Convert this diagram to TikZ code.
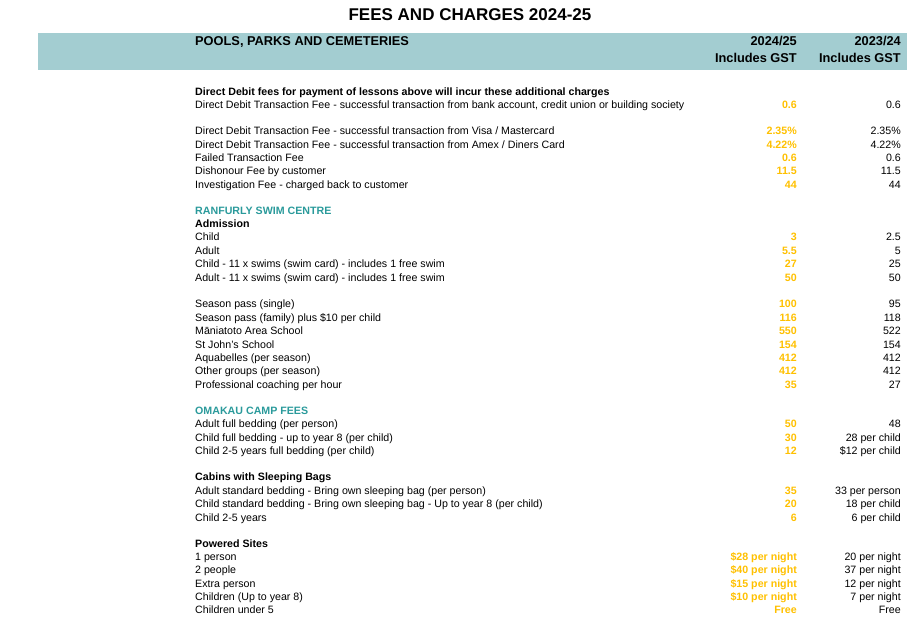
\documentclass[tikz,border=0pt]{standalone}
\usepackage{fontspec}
\setmainfont{Liberation Sans}
\definecolor{band}{HTML}{A3CDD1}
\definecolor{teal}{HTML}{2A9A9B}
\definecolor{gold}{HTML}{FFC000}
\newcommand\rowz[5]{%
  \node[lbl] (#1l) at (195,#2) {#3};
  \node[va] (#1a) at (797,#2) {#4};
  \node[vb] (#1b) at (901,#2) {#5};}
\begin{document}
\begin{tikzpicture}[x=1pt,y=-1pt,
  every node/.style={inner sep=0pt,font=\fontsize{10.65}{12}\selectfont},
  lbl/.style={anchor=base west},
  va/.style={anchor=base east,text=gold,font=\fontsize{10.65}{12}\selectfont\bfseries},
  vb/.style={anchor=base east},
  hd/.style={anchor=base west,font=\fontsize{10.65}{12}\selectfont\bfseries},
  th/.style={anchor=base east,font=\fontsize{12.8}{14}\selectfont\bfseries}]
\useasboundingbox (0,0) rectangle (907,626);
\fill[band] (38,33) rectangle (907,70);
\node[font=\fontsize{17}{20}\selectfont\bfseries,anchor=base] (title) at (470,21) {FEES AND CHARGES 2024-25};
\node[hd,font=\fontsize{12.8}{14}\selectfont\bfseries] (h0) at (195,46) {POOLS, PARKS AND CEMETERIES};
\node[th] (h1) at (797,46) {2024/25};
\node[th] (h2) at (797,63) {Includes GST};
\node[th] (h3) at (901,46) {2023/24};
\node[th] (h4) at (901,63) {Includes GST};
\node[hd] (s1) at (195,95) {Direct Debit fees for payment of lessons above will incur these additional charges};
\rowz{r1}{108}{Direct Debit Transaction Fee - successful transaction from bank account, credit union or building society}{0.6}{0.6}
\rowz{r2}{134}{Direct Debit Transaction Fee - successful transaction from Visa / Mastercard}{2.35\%}{2.35\%}
\rowz{r3}{148}{Direct Debit Transaction Fee - successful transaction from Amex / Diners Card}{4.22\%}{4.22\%}
\rowz{r4}{161}{Failed Transaction Fee}{0.6}{0.6}
\rowz{r5}{174}{Dishonour Fee by customer}{11.5}{11.5}
\rowz{r6}{188}{Investigation Fee - charged back to customer}{44}{44}
\node[hd,text=teal] (s2) at (195,214) {RANFURLY SWIM CENTRE};
\node[hd] (s3) at (195,227) {Admission};
\rowz{r7}{240}{Child}{3}{2.5}
\rowz{r8}{254}{Adult}{5.5}{5}
\rowz{r9}{267}{Child - 11 x swims (swim card) - includes 1 free swim}{27}{25}
\rowz{r10}{281}{Adult - 11 x swims (swim card) - includes 1 free swim}{50}{50}
\rowz{r11}{307}{Season pass (single)}{100}{95}
\rowz{r12}{321}{Season pass (family) plus \$10 per child}{116}{118}
\rowz{r13}{334}{Māniatoto Area School}{550}{522}
\rowz{r14}{348}{St John's School}{154}{154}
\rowz{r15}{361}{Aquabelles (per season)}{412}{412}
\rowz{r16}{374}{Other groups (per season)}{412}{412}
\rowz{r17}{388}{Professional coaching per hour}{35}{27}
\node[hd,text=teal] (s4) at (195,414) {OMAKAU CAMP FEES};
\rowz{r18}{427}{Adult full bedding (per person)}{50}{48}
\rowz{r19}{441}{Child full bedding - up to year 8 (per child)}{30}{28 per child}
\rowz{r20}{454}{Child 2-5 years full bedding (per child)}{12}{\$12 per child}
\node[hd] (s5) at (195,480) {Cabins with Sleeping Bags};
\rowz{r21}{494}{Adult standard bedding - Bring own sleeping bag (per person)}{35}{33 per person}
\rowz{r22}{507}{Child standard bedding - Bring own sleeping bag - Up to year 8 (per child)}{20}{18 per child}
\rowz{r23}{521}{Child 2-5 years}{6}{6 per child}
\node[hd] (s6) at (195,547) {Powered Sites};
\rowz{r24}{560}{1 person}{\$28 per night}{20 per night}
\rowz{r25}{573}{2 people}{\$40 per night}{37 per night}
\rowz{r26}{587}{Extra person}{\$15 per night}{12 per night}
\rowz{r27}{600}{Children (Up to year 8)}{\$10 per night}{7 per night}
\rowz{r28}{613}{Children under 5}{Free}{Free}
\end{tikzpicture}
\end{document}
